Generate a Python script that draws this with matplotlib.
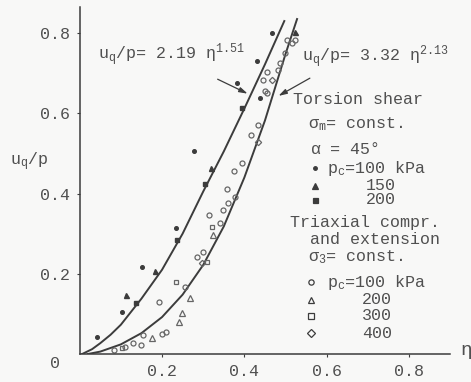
import matplotlib
matplotlib.use("Agg")
import matplotlib.pyplot as plt

# fitted curves (eta, u_q/p)
eta_torsion_fit = [0.006, 0.03, 0.05, 0.075, 0.10, 0.15, 0.20, 0.25, 0.30, 0.35, 0.40, 0.45, 0.497]
u_torsion_fit = [0.0, 0.012, 0.027, 0.048, 0.073, 0.138, 0.210, 0.300, 0.405, 0.505, 0.612, 0.722, 0.830]
eta_triax_fit = [0.02, 0.05, 0.10, 0.15, 0.20, 0.25, 0.30, 0.35, 0.40, 0.45, 0.50, 0.528]
u_triax_fit = [0.0, 0.006, 0.024, 0.052, 0.092, 0.148, 0.222, 0.318, 0.440, 0.582, 0.748, 0.835]

# torsion shear tests (filled symbols)
eta_t100 = [0.042, 0.103, 0.151, 0.234, 0.278, 0.382, 0.431, 0.438, 0.467]
u_t100 = [0.042, 0.105, 0.217, 0.314, 0.506, 0.676, 0.731, 0.638, 0.800]
eta_t150 = [0.112, 0.183, 0.319, 0.523]
u_t150 = [0.147, 0.207, 0.464, 0.803]
eta_t200 = [0.137, 0.236, 0.304, 0.394]
u_t200 = [0.127, 0.284, 0.424, 0.613]

# triaxial compression / extension tests (open symbols)
eta_x100 = [0.083, 0.110, 0.130, 0.149, 0.154, 0.193, 0.200, 0.210, 0.256, 0.285, 0.300,
            0.314, 0.341, 0.348, 0.360, 0.377, 0.358, 0.375, 0.394, 0.416, 0.433,
            0.445, 0.455, 0.482, 0.487, 0.499, 0.503, 0.516, 0.523, 0.455, 0.450]
u_x100 = [0.010, 0.017, 0.027, 0.022, 0.047, 0.130, 0.050, 0.055, 0.167, 0.242, 0.254,
          0.346, 0.327, 0.359, 0.377, 0.391, 0.411, 0.456, 0.476, 0.546, 0.571,
          0.683, 0.703, 0.708, 0.726, 0.751, 0.783, 0.776, 0.783, 0.651, 0.656]
eta_x200 = [0.176, 0.241, 0.248, 0.268, 0.324]
u_x200 = [0.040, 0.080, 0.102, 0.140, 0.297]
eta_x300 = [0.103, 0.234, 0.309, 0.321]
u_x300 = [0.015, 0.180, 0.229, 0.317]
eta_x400 = [0.297, 0.433, 0.467]
u_x400 = [0.227, 0.529, 0.683]

x_ticks = [0.2, 0.4, 0.6, 0.8]
y_ticks = [0.2, 0.4, 0.6, 0.8]

ink = "#3c3c3c"
txt = "#505050"
mono = "Liberation Mono"

plt.rcParams["font.family"] = [mono, "DejaVu Sans"]
plt.rcParams["mathtext.fontset"] = "custom"
plt.rcParams["mathtext.rm"] = mono
plt.rcParams["mathtext.it"] = mono
plt.rcParams["mathtext.default"] = "rm"

W, H = 471, 382
fig = plt.figure(figsize=(W / 100, H / 100), dpi=100, facecolor="#f8f8f7")
ax = fig.add_axes([79.7 / W, 28 / H, 370.5 / W, 347 / H])
ax.set_facecolor("none")
ax.set_xlim(0, 0.90)
ax.set_ylim(0, 0.865)

for s in ["top", "right"]:
    ax.spines[s].set_visible(False)
for s in ["left", "bottom"]:
    ax.spines[s].set_color(ink)
    ax.spines[s].set_linewidth(1.1)

ax.set_xticks(x_ticks)
ax.set_yticks(y_ticks)
ax.set_xticklabels(["%.1f" % v for v in x_ticks])
ax.set_yticklabels(["%.1f" % v for v in y_ticks])
ax.tick_params(colors=ink, labelcolor=txt, labelsize=12, length=2, width=0.8, pad=5)

# curves
ax.plot(eta_torsion_fit, u_torsion_fit, color=ink, lw=1.4)
ax.plot(eta_triax_fit, u_triax_fit, color=ink, lw=1.4)

# points
ax.plot(eta_t100, u_t100, ls="none", marker="o", ms=2.6, color=ink)
ax.plot(eta_t150, u_t150, ls="none", marker="^", ms=3.6, color=ink)
ax.plot(eta_t200, u_t200, ls="none", marker="s", ms=3.2, color=ink)
ax.plot(eta_x100, u_x100, ls="none", marker="o", ms=3.6, mfc="none", mec="#666666", mew=0.9)
ax.plot(eta_x200, u_x200, ls="none", marker="^", ms=4.0, mfc="none", mec="#666666", mew=0.9)
ax.plot(eta_x300, u_x300, ls="none", marker="s", ms=3.4, mfc="none", mec="#666666", mew=0.9)
ax.plot(eta_x400, u_x400, ls="none", marker="D", ms=3.2, mfc="none", mec="#666666", mew=0.9)

# equations with leader lines
ax.text(0.045, 0.745, r"$u_q$/p= 2.19 $\eta^{1.51}$", fontsize=12, color=txt, va="center")
ax.annotate("", xy=(0.414, 0.646), xytext=(0.329, 0.688),
            arrowprops=dict(arrowstyle="-|>,head_length=0.5,head_width=0.15", color=ink, lw=0.9))
ax.text(0.54, 0.740, r"$u_q$/p= 3.32 $\eta^{2.13}$", fontsize=12, color=txt, va="center",
        clip_on=False)
ax.annotate("", xy=(0.477, 0.640), xytext=(0.565, 0.691),
            arrowprops=dict(arrowstyle="-|>,head_length=0.5,head_width=0.15", color=ink, lw=0.9))


def put(x, y, s, size=12, **kw):
    fig.text(x / W, 1 - y / H, s, fontsize=size, color=txt, va="center", **kw)


# legend block
put(293, 100, "Torsion shear")
put(308, 124, r"$\sigma_m$= const.")
put(310, 149, r"$\alpha$ = 45°")
put(327, 168, r"p$_c$=100 kPa")
put(366, 186, "150")
put(366, 200, "200")
put(290, 223, "Triaxial compr.")
put(310, 240, "and extension")
put(308, 257, r"$\sigma_3$= const.")
put(327, 282, r"p$_c$=100 kPa")
put(362, 300, "200")
put(362, 316, "300")
put(362, 333, "400")

legend_marks = [
    (315, 168, "o", 2.6, True),
    (315, 186, "^", 4.0, True),
    (315, 200, "s", 3.6, True),
    (311, 282, "o", 3.8, False),
    (311, 300, "^", 4.2, False),
    (311, 316, "s", 3.8, False),
    (311, 333, "D", 3.6, False),
]
for x, y, m, size, filled in legend_marks:
    ax.plot([x / W], [1 - y / H], marker=m, ms=size, transform=fig.transFigure, clip_on=False,
            color=ink, mfc=ink if filled else "none", mew=0.9)

# axis labels
put(10, 162, r"$u_q$/p")
put(55, 364, "0", ha="center")
put(460, 352, r"$\eta$", size=14)

fig.savefig("out.png", dpi=100, facecolor=fig.get_facecolor())
